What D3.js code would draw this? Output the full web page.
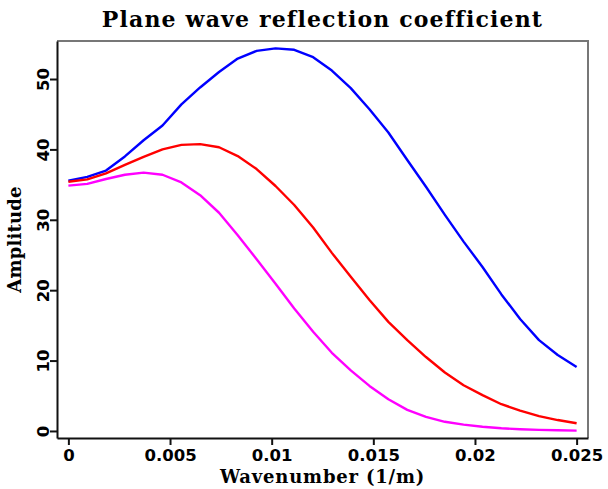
<!DOCTYPE html>
<html>
<head>
<meta charset="utf-8">
<script src="https://cdn.jsdelivr.net/npm/d3@7"></script>
<style>
  html, body { margin: 0; padding: 0; background: #fff; }
  svg { display: block; }
  .tick text { font-family: "DejaVu Sans", sans-serif; font-weight: bold; font-size: 16.5px; fill: #000; }
  .label { font-family: "DejaVu Serif", serif; font-weight: bold; fill: #000; }
</style>
</head>
<body>
<svg id="chart" width="608" height="489"></svg>
<script>
// Wavenumber samples (1/m)
const wavenumber = [
  0.00000, 0.00093, 0.00185, 0.00278, 0.00370, 0.00463, 0.00556,
  0.00648, 0.00741, 0.00833, 0.00926, 0.01019, 0.01111, 0.01204,
  0.01296, 0.01389, 0.01481, 0.01574, 0.01667, 0.01759, 0.01852,
  0.01944, 0.02037, 0.02130, 0.02222, 0.02315, 0.02407, 0.02500
];

// Reflection amplitude, one series per curve
const ampBlue = [
  35.55, 36.1, 37.0, 39.0, 41.3, 43.4, 46.4,
  48.8, 51.0, 52.9, 54.0, 54.35, 54.15, 53.1,
  51.2, 48.7, 45.7, 42.4, 38.5, 34.7, 30.7,
  26.9, 23.3, 19.4, 15.9, 12.9, 10.8, 9.1
];
const ampRed = [
  35.4, 35.75, 36.6, 37.8, 38.95, 40.0, 40.65,
  40.75, 40.3, 39.05, 37.2, 34.8, 32.1, 28.9,
  25.3, 21.9, 18.6, 15.5, 12.9, 10.5, 8.3,
  6.5, 5.1, 3.8, 2.9, 2.1, 1.55, 1.1
];
const ampMagenta = [
  34.85, 35.1, 35.8, 36.4, 36.7, 36.4, 35.3,
  33.5, 31.0, 27.8, 24.4, 20.9, 17.4, 14.1,
  11.1, 8.6, 6.4, 4.5, 3.0, 2.0, 1.3,
  0.9, 0.6, 0.38, 0.24, 0.15, 0.1, 0.05
];

const seriesColors = ["#0000ff", "#ff0000", "#ff00ff"];

const xTickValues = [0, 0.005, 0.01, 0.015, 0.02, 0.025];
const xTickLabels = ["0", "0.005", "0.01", "0.015", "0.02", "0.025"];
const yTickValues = [0, 10, 20, 30, 40, 50];
const yTickLabels = ["0", "10", "20", "30", "40", "50"];

const titleText = "Plane wave reflection coefficient";
const xTitle = "Wavenumber (1/m)";
const yTitle = "Amplitude";

// Plot frame
const frameL = 57, frameR = 588, frameT = 41, frameB = 438;

const svg = d3.select("#chart");

const x = d3.scaleLinear().domain([-0.00056, 0.02556]).range([frameL, frameR]);
const y = d3.scaleLinear().domain([-1.0, 55.4]).range([frameB, frameT]);

// Top and right frame edges
svg.append("path")
  .attr("d", `M${frameL},${frameT}H${frameR}V${frameB}`)
  .attr("fill", "none")
  .attr("stroke", "#777")
  .attr("stroke-width", 2);

// Curves
const line = d3.line()
  .x((d, i) => x(wavenumber[i]))
  .y(d => y(d));

[ampBlue, ampRed, ampMagenta].forEach((vals, k) => {
  svg.append("path")
    .datum(vals)
    .attr("d", line)
    .attr("fill", "none")
    .attr("stroke", seriesColors[k])
    .attr("stroke-width", 2.4)
    .attr("stroke-linejoin", "round");
});

// Bottom axis
const xAxis = svg.append("g")
  .attr("transform", `translate(0,${frameB})`)
  .call(d3.axisBottom(x)
    .tickValues(xTickValues)
    .tickFormat((d, i) => xTickLabels[i])
    .tickSize(7)
    .tickSizeOuter(0)
    .tickPadding(4));
xAxis.select(".domain").attr("stroke", "#111").attr("stroke-width", 2);
xAxis.selectAll(".tick line").attr("stroke", "#111").attr("stroke-width", 2);

// Left axis, labels turned to read upward
const yAxis = svg.append("g")
  .attr("transform", `translate(${frameL},0)`)
  .call(d3.axisLeft(y)
    .tickValues(yTickValues)
    .tickFormat((d, i) => yTickLabels[i])
    .tickSize(7)
    .tickSizeOuter(0));
yAxis.select(".domain").attr("stroke", "#111").attr("stroke-width", 2);
yAxis.selectAll(".tick line").attr("stroke", "#111").attr("stroke-width", 2);
yAxis.selectAll(".tick text")
  .attr("x", null)
  .attr("dy", null)
  .attr("text-anchor", "middle")
  .attr("transform", "translate(-8,0) rotate(-90)");

// Title and axis titles
svg.append("text")
  .attr("class", "label")
  .attr("x", (frameL + frameR) / 2)
  .attr("y", 27)
  .attr("text-anchor", "middle")
  .attr("font-size", 22)
  .attr("letter-spacing", "1.15px")
  .text(titleText);

svg.append("text")
  .attr("class", "label")
  .attr("x", (frameL + frameR) / 2)
  .attr("y", 483)
  .attr("text-anchor", "middle")
  .attr("font-size", 18)
  .attr("letter-spacing", "0.8px")
  .text(xTitle);

svg.append("text")
  .attr("class", "label")
  .attr("transform", `translate(21,${(frameT + frameB) / 2}) rotate(-90)`)
  .attr("text-anchor", "middle")
  .attr("font-size", 18)
  .attr("letter-spacing", "0.2px")
  .text(yTitle);
</script>
</body>
</html>
